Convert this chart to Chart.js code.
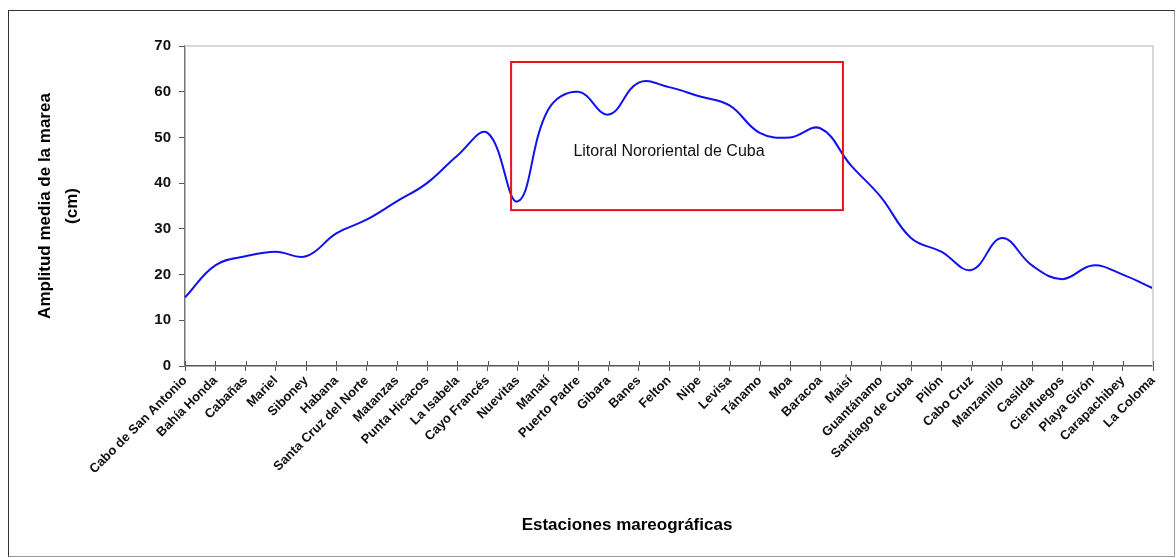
<!DOCTYPE html>
<html>
<head>
<meta charset="utf-8">
<script src="https://cdn.jsdelivr.net/npm/chart.js@4.4.1/dist/chart.umd.min.js"></script>
<style>
    html, body { margin: 0; padding: 0; background: #fff; }
    #wrap { position: relative; width: 1176px; height: 558px; }
    #frame { position: absolute; left: 8px; top: 10px; right: 1px; bottom: 1px; border: 1px solid #333; border-right-color: #999; border-bottom-color: #999; pointer-events: none; }
</style>
</head>
<body>
<div id="wrap">
    <canvas id="chart" width="1176" height="558"></canvas>
    <div id="frame"></div>
</div>
<script>
// Estaciones mareográficas (oeste -> este -> sur)
const estaciones = [
    'Cabo de San Antonio', 'Bahía Honda', 'Cabañas', 'Mariel', 'Siboney', 'Habana',
    'Santa Cruz del Norte', 'Matanzas', 'Punta Hicacos', 'La Isabela', 'Cayo Francés',
    'Nuevitas', 'Manatí', 'Puerto Padre', 'Gibara', 'Banes', 'Felton', 'Nipe', 'Levisa',
    'Tánamo', 'Moa', 'Baracoa', 'Maisí', 'Guantánamo', 'Santiago de Cuba', 'Pilón',
    'Cabo Cruz', 'Manzanillo', 'Casilda', 'Cienfuegos', 'Playa Girón', 'Carapachibey', 'La Coloma'
];

// Amplitud media de la marea (cm)
const amplitud = [
    15, 22, 24, 25, 24, 29,
    32, 36, 40, 46, 51,
    36, 56, 60, 55, 62, 61, 59, 57,
    51, 50, 52, 44, 37, 28, 25,
    21, 28, 22, 19, 22, 20, 17
];

const yTicks = [0, 10, 20, 30, 40, 50, 60, 70];

// Recuadro del litoral nororiental (en unidades de los ejes)
const recuadroX = [10.78, 21.75];
const recuadroY = [34.1, 66.5];
const recuadroTexto = 'Litoral Nororiental de Cuba';
const textoPos = [16.0, 46.9];

const tituloY = ['Amplitud media de la marea', '(cm)'];
const tituloX = 'Estaciones mareográficas';

const FONT = 'Arial, "Liberation Sans", sans-serif';

const extras = {
    id: 'extras',
    afterDatasetsDraw(chart) {
        const { ctx, chartArea, scales } = chart;
        const xs = scales.x, ys = scales.y;
        ctx.save();

        // top and right border of the plot area
        ctx.strokeStyle = '#d8d8d8';
        ctx.lineWidth = 2;
        ctx.beginPath();
        ctx.moveTo(chartArea.left, chartArea.top);
        ctx.lineTo(chartArea.right, chartArea.top);
        ctx.lineTo(chartArea.right, chartArea.bottom);
        ctx.stroke();

        // small tick marks above the x axis
        ctx.strokeStyle = '#555';
        ctx.lineWidth = 1;
        ctx.beginPath();
        estaciones.forEach((_, i) => {
            const px = Math.round(xs.getPixelForValue(i)) + 0.5;
            ctx.moveTo(px, chartArea.bottom - 5);
            ctx.lineTo(px, chartArea.bottom);
        });
        ctx.stroke();

        // red box
        const x0 = xs.getPixelForValue(recuadroX[0]);
        const x1 = xs.getPixelForValue(recuadroX[1]);
        const y0 = ys.getPixelForValue(recuadroY[1]);
        const y1 = ys.getPixelForValue(recuadroY[0]);
        ctx.strokeStyle = '#e8141b';
        ctx.lineWidth = 2;
        ctx.strokeRect(x0, y0, x1 - x0, y1 - y0);

        ctx.fillStyle = '#111';
        ctx.font = '16px ' + FONT;
        ctx.textAlign = 'center';
        ctx.textBaseline = 'middle';
        ctx.fillText(recuadroTexto, xs.getPixelForValue(textoPos[0]), ys.getPixelForValue(textoPos[1]));

        // axis titles
        ctx.font = 'bold 17px ' + FONT;
        ctx.fillStyle = '#000';
        const midY = (chartArea.top + chartArea.bottom) / 2;
        ctx.save();
        ctx.translate(45, midY);
        ctx.rotate(-Math.PI / 2);
        ctx.fillText(tituloY[0], 0, 0);
        ctx.restore();
        ctx.save();
        ctx.translate(72, midY);
        ctx.rotate(-Math.PI / 2);
        ctx.fillText(tituloY[1], 0, 0);
        ctx.restore();

        ctx.fillText(tituloX, 627, 525);
        ctx.restore();
    }
};

new Chart(document.getElementById('chart'), {
    type: 'line',
    data: {
        labels: estaciones,
        datasets: [{
            label: 'Amplitud media',
            data: amplitud,
            borderColor: '#1010f0',
            borderWidth: 2,
            pointRadius: 0,
            fill: false,
            tension: 0.4
        }]
    },
    options: {
        responsive: false,
        animation: false,
        devicePixelRatio: 1,
        layout: { padding: { top: 46, right: 23, left: 0, bottom: 0 } },
        plugins: {
            legend: { display: false },
            tooltip: { enabled: false }
        },
        scales: {
            x: {
                offset: false,
                afterFit: s => { s.height = 192; },
                grid: { drawOnChartArea: false, drawTicks: true, tickLength: 5, color: '#555' },
                border: { color: '#555', width: 1.5 },
                ticks: {
                    autoSkip: false,
                    maxRotation: 45,
                    minRotation: 45,
                    padding: 2,
                    color: '#111',
                    font: { family: FONT, size: 13, weight: 'bold' }
                }
            },
            y: {
                min: 0,
                max: 70,
                afterFit: s => { s.width = 185; },
                afterBuildTicks: s => { s.ticks = yTicks.map(v => ({ value: v })); },
                grid: { drawOnChartArea: false, drawTicks: true, tickLength: 6, color: '#555' },
                border: { color: '#777', width: 1.5 },
                ticks: {
                    padding: 8,
                    color: '#111',
                    font: { family: FONT, size: 15, weight: 'bold' }
                }
            }
        }
    },
    plugins: [extras]
});
</script>
</body>
</html>
